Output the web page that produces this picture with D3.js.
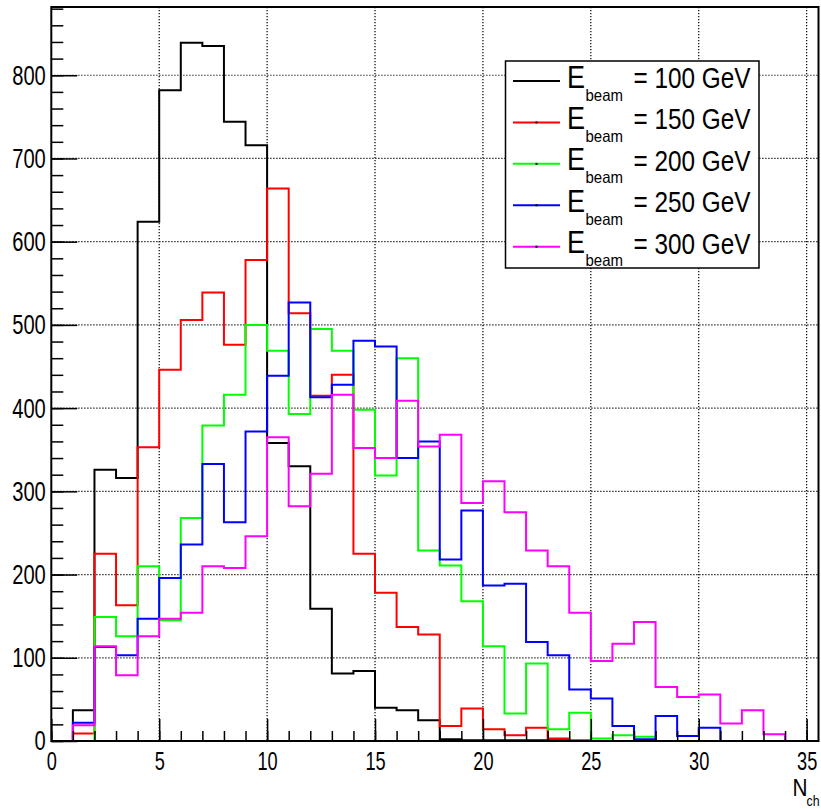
<!DOCTYPE html>
<html>
<head>
<meta charset="utf-8">
<script src="https://cdn.jsdelivr.net/npm/d3@7"></script>
<style>
  html, body { margin: 0; padding: 0; background: #fff; }
  svg { display: block; }
</style>
</head>
<body>
<div id="chart"></div>
<script>
// Bin contents, one entry per unit bin from N_ch = 0 to 36
const binEdges = d3.range(0, 37);
const beam100 = [0, 37, 326, 316, 624, 782, 839, 835, 744, 716, 358, 330, 159, 81, 84, 40, 37, 25, 2, 1, 1, 1, 1, 1, 0, 0, 0, 0, 0, 0, 0, 0, 0, 0, 0, 0];
const beam150 = [0, 9, 225, 163, 353, 446, 506, 539, 476, 578, 664, 514, 415, 440, 225, 178, 137, 128, 18, 39, 14, 7, 16, 3, 1, 0, 0, 0, 0, 0, 0, 0, 0, 0, 0, 0];
const beam200 = [0, 0, 149, 126, 210, 145, 268, 379, 416, 500, 469, 393, 495, 469, 398, 319, 460, 229, 211, 168, 114, 33, 93, 14, 34, 3, 7, 5, 0, 0, 0, 0, 0, 0, 0, 0];
const beam250 = [0, 22, 113, 103, 147, 196, 236, 333, 263, 372, 439, 527, 413, 428, 481, 474, 340, 360, 218, 277, 187, 189, 119, 103, 62, 51, 18, 2, 30, 6, 16, 0, 0, 0, 0, 0];
const beam300 = [0, 19, 114, 79, 126, 147, 154, 210, 208, 246, 365, 282, 321, 416, 352, 340, 409, 354, 368, 286, 312, 275, 229, 210, 154, 96, 117, 143, 65, 53, 56, 21, 37, 8, 0, 0];

const energies = ["100", "150", "200", "250", "300"];
const seriesColors = ["#000000", "#ff0000", "#00ff00", "#0000ff", "#ff00ff"];
const seriesValues = [beam100, beam150, beam200, beam250, beam300];

const xMajorTicks = d3.range(0, 36, 5);
const xMinorTicks = d3.range(0, 36, 1);
const yMajorTicks = d3.range(0, 900, 100);
const yMinorTicks = d3.range(0, 882, 20);

// Canvas
const width = 821, height = 809;
const frame = { left: 51.3, right: 818.5, top: 7, bottom: 741 };
const font = "'Liberation Sans', Arial, Helvetica, sans-serif";

const svg = d3.select("#chart").append("svg")
    .attr("width", width)
    .attr("height", height);

svg.append("rect").attr("width", width).attr("height", height).attr("fill", "#fff");

// Scales
const x = d3.scaleLinear().domain([0, 35.55]).range([frame.left, frame.right]);
const y = d3.scaleLinear().domain([0, 882]).range([frame.bottom, frame.top]);

svg.append("clipPath").attr("id", "plot-clip")
    .append("rect")
    .attr("x", frame.left).attr("y", frame.top)
    .attr("width", frame.right - frame.left).attr("height", frame.bottom - frame.top);

// Dotted grid
const grid = svg.append("g")
    .attr("stroke", "#000")
    .attr("stroke-width", 1.2)
    .attr("stroke-dasharray", "1.2,1.8");
grid.selectAll("line.gx").data(xMajorTicks.filter(d => d > 0)).join("line")
    .attr("x1", d => x(d)).attr("x2", d => x(d))
    .attr("y1", frame.top).attr("y2", frame.bottom);
grid.selectAll("line.gy").data(yMajorTicks.filter(d => d > 0 && d < 882)).join("line")
    .attr("x1", frame.left).attr("x2", frame.right)
    .attr("y1", d => y(d)).attr("y2", d => y(d));

// Histogram outlines (ROOT "HIST" style step lines)
const step = d3.line()
    .x(d => x(d[0]))
    .y(d => y(d[1]))
    .curve(d3.curveStepAfter);

const hists = svg.append("g").attr("clip-path", "url(#plot-clip)");
seriesValues.forEach((vals, i) => {
    const pts = vals.map((v, j) => [binEdges[j], v]);
    pts.push([binEdges[vals.length], vals[vals.length - 1]]);
    hists.append("path")
        .attr("d", step(pts))
        .attr("fill", "none")
        .attr("stroke", seriesColors[i])
        .attr("stroke-width", 2);
});

// Axes: ticks point into the frame
function styleAxis(g) {
    g.select(".domain").remove();
    g.selectAll(".tick line").attr("stroke", "#000").attr("stroke-width", 1.5);
}

svg.append("g")
    .attr("transform", `translate(${frame.left},0)`)
    .call(d3.axisLeft(y).tickValues(yMinorTicks).tickSize(-12).tickFormat(""))
    .call(styleAxis);

const yAxis = svg.append("g")
    .attr("transform", `translate(${frame.left},0)`)
    .call(d3.axisLeft(y).tickValues(yMajorTicks.filter(d => d < 882)).tickSize(-26).tickFormat(d3.format("d")))
    .call(styleAxis);
yAxis.selectAll("text")
    .attr("font-family", font)
    .attr("font-size", 28)
    .attr("fill", "#000")
    .attr("x", -5.5 / 0.72)
    .attr("transform", "scale(0.72,1)");

svg.append("g")
    .attr("transform", `translate(0,${frame.bottom})`)
    .call(d3.axisBottom(x).tickValues(xMinorTicks).tickSize(-10).tickFormat(""))
    .call(styleAxis);

const xAxis = svg.append("g")
    .attr("transform", `translate(0,${frame.bottom})`)
    .call(d3.axisBottom(x).tickValues(xMajorTicks).tickSize(-22).tickPadding(11).tickFormat(d3.format("d")))
    .call(styleAxis);
xAxis.selectAll("text")
    .attr("font-family", font)
    .attr("font-size", 26)
    .attr("fill", "#000")
    .attr("transform", "scale(0.7,1)");

// Frame
svg.append("rect")
    .attr("x", frame.left).attr("y", frame.top)
    .attr("width", frame.right - frame.left).attr("height", frame.bottom - frame.top)
    .attr("fill", "none")
    .attr("stroke", "#000")
    .attr("stroke-width", 2);

// X axis title N_ch
const xTitle = svg.append("g").attr("font-family", font).attr("fill", "#000");
xTitle.append("text")
    .attr("x", 792.5).attr("y", 796)
    .attr("font-size", 23)
    .attr("textLength", 15).attr("lengthAdjust", "spacingAndGlyphs")
    .text("N");
xTitle.append("text")
    .attr("x", 806.5).attr("y", 805.5)
    .attr("font-size", 14)
    .attr("textLength", 13).attr("lengthAdjust", "spacingAndGlyphs")
    .text("ch");

// Legend
const legend = svg.append("g").attr("font-family", font).attr("fill", "#000");
legend.append("rect")
    .attr("x", 505.5).attr("y", 61)
    .attr("width", 253.5).attr("height", 207)
    .attr("fill", "#fff")
    .attr("stroke", "#000")
    .attr("stroke-width", 1.5);

const rowY = d3.scaleLinear().domain([0, 4]).range([81, 246.7]);

energies.forEach((e, i) => {
    const ry = rowY(i);
    const row = legend.append("g");
    row.append("line")
        .attr("x1", 513).attr("x2", 560)
        .attr("y1", ry).attr("y2", ry)
        .attr("stroke", seriesColors[i])
        .attr("stroke-width", 2);
    if (i > 0) {
        row.append("rect")
            .attr("x", 535.5).attr("y", ry - 1)
            .attr("width", 2).attr("height", 2)
            .attr("fill", "#000");
    }
    row.append("text")
        .attr("x", 567).attr("y", ry + 6.5)
        .attr("font-size", 32)
        .attr("textLength", 18).attr("lengthAdjust", "spacingAndGlyphs")
        .text("E");
    row.append("text")
        .attr("x", 585.5).attr("y", ry + 19.5)
        .attr("font-size", 16.5)
        .attr("textLength", 37.5).attr("lengthAdjust", "spacingAndGlyphs")
        .text("beam");
    row.append("text")
        .attr("x", 633.5).attr("y", ry + 7)
        .attr("font-size", 29.5)
        .attr("textLength", 117).attr("lengthAdjust", "spacingAndGlyphs")
        .text(`= ${e} GeV`);
});
</script>
</body>
</html>
